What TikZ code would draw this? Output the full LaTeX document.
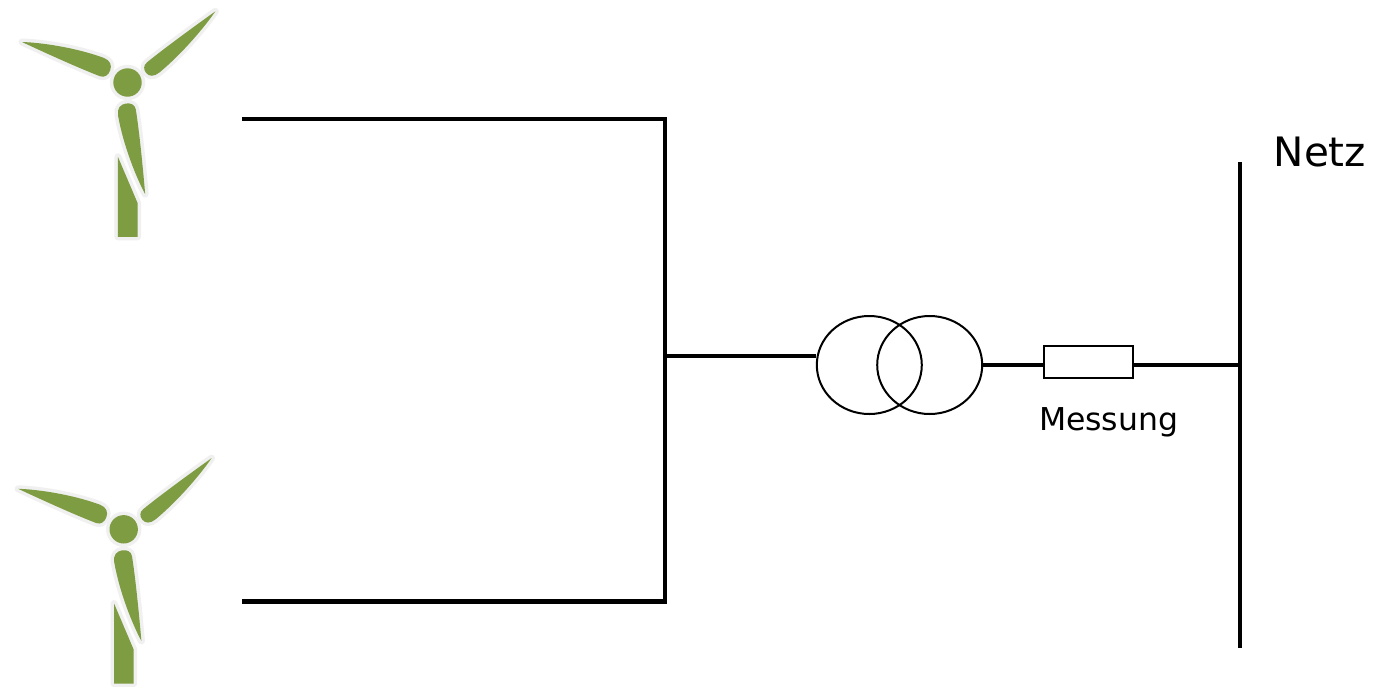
\documentclass[tikz,border=0pt]{standalone}
\usepackage{fontspec}
\setmainfont{DejaVu Sans}
\usetikzlibrary{shapes.geometric}
\definecolor{wgreen}{RGB}{126,157,67}
\definecolor{halo}{RGB}{240,240,240}
\tikzset{
  halostyle/.style={draw=halo,fill=halo,line width=7pt,line join=round},
  greenstyle/.style={fill=wgreen},
  wire/.style={line width=4.8pt},
  thin/.style={draw,line width=2pt,inner sep=0pt},
  lbl/.style={inner sep=0pt,anchor=base west},
  turbparts/.pic={
    \begin{scope}[y=1pt]
      \foreach \a/\w in {39/0.85,159/1,-81/1}{
        \path[#1,rotate=\a,yscale=\w] (113,0) .. controls (85,2) and (50,4) .. (28,4)
          .. controls (23,4) and (20.5,0) .. (20.5,-5)
          .. controls (20.5,-10.5) and (24,-14.5) .. (31,-14.5)
          .. controls (62,-14) and (96,-6) .. (113,0) -- cycle;
      }
      \path[#1] (0,0) circle[radius=14.2];
      \path[#1] (-9.6,-74.3) -- (10,-120.3) -- (10,-154.3) -- (-9.6,-154.3) -- cycle;
    \end{scope}
  },
  turbine/.pic={
    \pic {turbparts=halostyle};
    \pic {turbparts=greenstyle};
  }
}
\begin{document}
\begin{tikzpicture}[x=1pt,y=-1pt]
\useasboundingbox (0,0) rectangle (1373,686);
\fill[white] (0,0) rectangle (1373,686);
% turbines
\pic (wt1) at (127.5,82.5) {turbine};
\pic (wt2) at (123.7,529.3) {turbine};
% feeder lines
\coordinate (f1) at (242,119);
\coordinate (f2) at (242,601.5);
\coordinate (j) at (665,356);
\coordinate (jt) at (665,119);
\coordinate (jb) at (665,601.5);
\draw[wire] (f1) -- (jt) -- (jb) -- (f2);
% transformer
\node[thin,ellipse,minimum width=105pt,minimum height=98pt] (tl) at (869.3,365) {};
\node[thin,ellipse,minimum width=105pt,minimum height=98pt] (tr) at (929.7,365) {};
\draw[wire] (j) -- (j -| tl.west);
% measurement
\node[thin,rectangle,minimum width=89.5pt,minimum height=32.5pt] (box) at (1088.4,362.2) {};
\coordinate (bt) at (1240,162);
\coordinate (bb) at (1240,648);
\draw[wire] (tr.east) -- (tr.east -| box.west);
\draw[wire] (tr.east -| box.east) -- (tr.east -| bt);
\draw[wire] (bt) -- (bb);
\node[lbl,font=\fontsize{31.5}{36}\selectfont] (mess) at (1038.8,430) {Messung};
\node[lbl,font=\fontsize{40.5}{48}\selectfont] (netz) at (1273.5,166) {Netz};
\end{tikzpicture}
\end{document}
